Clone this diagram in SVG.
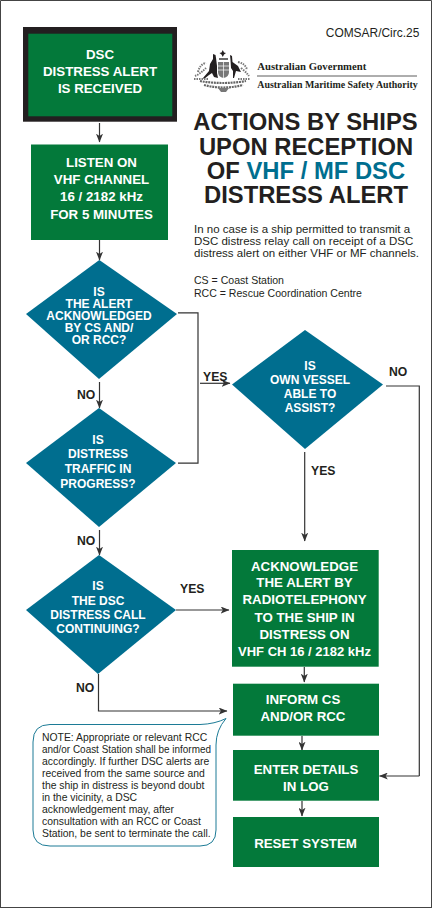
<svg xmlns="http://www.w3.org/2000/svg" width="435" height="908" viewBox="0 0 435 908">
<style>
.n{font-family:"Liberation Sans",Arial,sans-serif;font-weight:700;font-size:13.3px;fill:#fff;text-anchor:middle}
.d{font-size:12px}
.g{fill:#03793a}
.t{fill:#006e8f}
.l{font-family:"Liberation Sans",Arial,sans-serif;font-weight:700;font-size:12.2px;fill:#231f20}
.h{font-family:"Liberation Sans",Arial,sans-serif;font-weight:700;font-size:23.8px;fill:#231f20;text-anchor:middle}
.b{font-family:"Liberation Sans",Arial,sans-serif;font-size:11.5px;fill:#231f20}
.s{font-family:"Liberation Sans",Arial,sans-serif;font-size:10.4px;fill:#231f20}
.m{font-family:"Liberation Serif",serif;font-weight:700;font-size:10.7px;fill:#231f20}
.c{fill:none;stroke:#333;stroke-width:1.2}
.a{fill:none;stroke:#333;stroke-width:1.2;marker-end:url(#ar)}
</style>
<defs><marker id="ar" viewBox="0 0 10 8" refX="9.500" refY="4" markerWidth="9" markerHeight="7" markerUnits="userSpaceOnUse" orient="auto"><path d="M0 0L10 4L0 8L2.500 4Z" fill="#333"/></marker></defs>
<rect width="435" height="908" fill="#fff"/>
<path d="M.5 908V.5H431.5V908M0 907.5H432" fill="none" stroke="#444" stroke-width="1"/>
<g id="connectors">
<path class="a" d="M99.500 123V142"/>
<path class="a" d="M99.500 240V260"/>
<path class="a" d="M99.500 382V408"/>
<path class="a" d="M99.500 530V555"/>
<path class="c" d="M178 312.800H198V463.200H178"/>
<path class="a" d="M200 383.300H230"/>
<path class="a" d="M304.700 452V541"/>
<path class="c" d="M386 386H419.300V776"/>
<path class="a" d="M419.300 776H379.500"/>
<path class="a" d="M176 610H229"/>
<path class="a" d="M98.500 674V711H227"/>
<path class="a" d="M304.300 667V682"/>
<path class="a" d="M302 736V750"/>
<path class="a" d="M302 801V816"/>
</g>
<g id="n1"><rect x="23" y="27" width="154" height="94.700" fill="#231f20"/><rect class="g" x="28.300" y="33.700" width="144" height="82.600"/><text class="n" x="100" y="59">DSC</text><text class="n" x="100" y="76">DISTRESS ALERT</text><text class="n" x="100" y="93">IS RECEIVED</text></g>
<g id="n2"><rect class="g" x="31" y="144.500" width="137" height="95.500"/><text class="n" x="101.500" y="167">LISTEN ON</text><text class="n" x="101.500" y="184">VHF CHANNEL</text><text class="n" x="101.500" y="201">16 / 2182 kHz</text><text class="n" x="101.500" y="219">FOR 5 MINUTES</text></g>
<g id="d1"><path class="t" d="M99.300 260L177 314L99 379L26 314Z"/><text class="n d" x="99" y="296">IS</text><text class="n d" x="99" y="308">THE ALERT</text><text class="n d" x="99" y="320">ACKNOWLEDGED</text><text class="n d" x="99" y="332">BY CS AND/</text><text class="n d" x="99" y="344">OR RCC?</text></g>
<g id="d2"><path class="t" d="M99 408L176 463L99 527L26 463Z"/><text class="n d" x="98" y="444">IS</text><text class="n d" x="98" y="458">DISTRESS</text><text class="n d" x="98" y="473">TRAFFIC IN</text><text class="n d" x="98" y="488">PROGRESS?</text></g>
<g id="d3"><path class="t" d="M99 555L176 610L98 674L26 610Z"/><text class="n d" x="98" y="590">IS</text><text class="n d" x="98" y="605">THE DSC</text><text class="n d" x="98" y="619">DISTRESS CALL</text><text class="n d" x="98" y="633">CONTINUING?</text></g>
<g id="d4"><path class="t" d="M305 330L383 384.500L305 449L232 384.500Z"/><text class="n d" x="310" y="370">IS</text><text class="n d" x="310" y="384">OWN VESSEL</text><text class="n d" x="310" y="398">ABLE TO</text><text class="n d" x="310" y="412">ASSIST?</text></g>
<g id="n3"><rect class="g" x="232" y="550" width="146.700" height="116.700"/><text class="n" x="304.500" y="570.500">ACKNOWLEDGE</text><text class="n" x="304.500" y="587">THE ALERT BY</text><text class="n" x="304.500" y="604">RADIOTELEPHONY</text><text class="n" x="304.500" y="622">TO THE SHIP IN</text><text class="n" x="304.500" y="639">DISTRESS ON</text><text class="n" x="304.500" y="656" style="font-size:13px">VHF CH 16 / 2182 kHz</text></g>
<g id="n4"><rect class="g" x="233" y="683.700" width="146" height="52"/><text class="n" x="303" y="704">INFORM CS</text><text class="n" x="303" y="721">AND/OR RCC</text></g>
<g id="n5"><rect class="g" x="233" y="750" width="146" height="50.700"/><text class="n" x="306" y="774">ENTER DETAILS</text><text class="n" x="306" y="791">IN LOG</text></g>
<g id="n6"><rect class="g" x="233" y="817" width="146" height="50"/><text class="n" x="305.500" y="848">RESET SYSTEM</text></g>
<g id="labels">
<text class="l" x="203" y="381">YES</text><text class="l" x="389" y="376">NO</text><text class="l" x="311" y="475">YES</text><text class="l" x="180" y="593">YES</text><text class="l" x="77" y="399">NO</text><text class="l" x="77" y="545">NO</text><text class="l" x="76" y="692">NO</text>
</g>
<g id="note"><path d="M50 724.500H200Q215 724 226 718.500Q216 730 216 745V830Q216 846 200 846H50Q33 846 33 830V742Q33 724.500 50 724.500Z" fill="#fff" stroke="#1c7b96" stroke-width="1"/>
<text class="s"><tspan x="42" y="741">NOTE: Appropriate or relevant RCC</tspan><tspan x="42" y="765">accordingly. If further DSC alerts are</tspan><tspan x="42" y="777">received from the same source and</tspan><tspan x="42" y="789">the ship in distress is beyond doubt</tspan><tspan x="42" y="801">in the vicinity, a DSC</tspan><tspan x="42" y="813">acknowledgement may, after</tspan><tspan x="42" y="825">consultation with an RCC or Coast</tspan><tspan x="42" y="837">Station, be sent to terminate the call.</tspan></text>
<text class="s" x="42" y="753" textLength="169" lengthAdjust="spacingAndGlyphs">and/or Coast Station shall be informed</text></g>
<g id="header">
<text x="419.300" y="36.700" text-anchor="end" style="font-family:'Liberation Sans',sans-serif;font-size:11.950px;fill:#231f20">COMSAR/Circ.25</text>
<g id="crest">
<path d="M213 54L215.500 55L216 58L217 66L217 73L218 78L214 77L212 73L209 75L204 79L203 78L209 71L210 64L213 59Z" fill="#231f20"/>
<path d="M230 55L232 56L232.500 62L238 66L241 72L236 71L234 78L233 78L233 71L231 68L230.500 60Z" fill="#231f20"/>
<path d="M218 62H229V72Q229 77 223.500 78Q218 77 218 72Z" fill="#777"/><path d="M218 66H229M218 70H229M223.500 62V78" stroke="#fff" stroke-width=".7"/>
<path d="M222.800 50L224 52.500L226 53L224 54.500L222.800 57L221.500 54.500L219.500 53L221.500 52.500Z" fill="#231f20"/><path d="M219 59H228" stroke="#444" stroke-width="1.600"/>
<path d="M198 72Q200 64 206 63M195 76Q200 74 206 68M194 79H208M238 62Q246 64 247 70M241 68Q246 72 249 76M238 79H250" fill="none" stroke="#777" stroke-width="2" stroke-dasharray="1.500 1"/>
<path d="M200 81Q222 85 246 81M204 85Q223 90 243 85" fill="none" stroke="#666" stroke-width="2.200" stroke-dasharray="2 .8"/>
<path d="M218 88H229L226 92H221Z" fill="#777"/>
</g>
<text class="m" x="257.300" y="70">Australian Government</text><path d="M257 76H417" stroke="#333" stroke-width=".8"/><text class="m" x="257.300" y="88" style="font-size:9.920px">Australian Maritime Safety Authority</text>
<text class="h" x="305.500" y="129.500">ACTIONS BY SHIPS</text><text class="h" x="306" y="154.500">UPON RECEPTION</text><text class="h" x="306" y="179">OF <tspan fill="#006e8f">VHF / MF DSC</tspan></text><text class="h" x="306" y="203">DISTRESS ALERT</text>
<text class="b"><tspan x="194" y="233">In no case is a ship permitted to transmit a</tspan><tspan x="194" y="245">DSC distress relay call on receipt of a DSC</tspan><tspan x="194" y="257">distress alert on either VHF or MF channels.</tspan></text>
<text class="s" style="font-size:10.550px"><tspan x="194" y="284">CS = Coast Station</tspan><tspan x="194" y="297">RCC = Rescue Coordination Centre</tspan></text>
</g>
</svg>
